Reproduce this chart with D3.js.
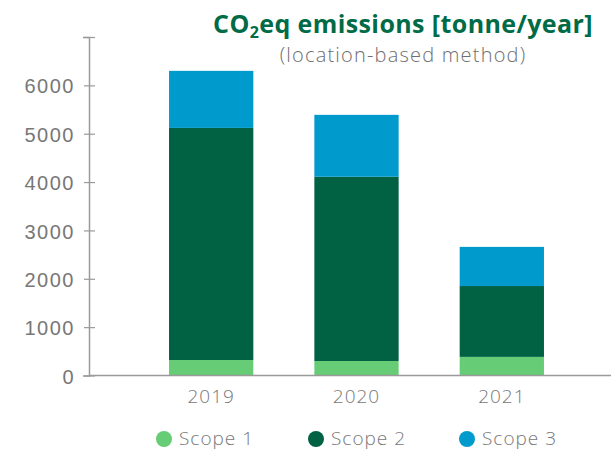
<!DOCTYPE html>
<html>
<head>
<meta charset="utf-8">
<script src="https://cdn.jsdelivr.net/npm/d3@7"></script>
<style>
  body { margin: 0; background: #fff; }
  svg { display: block; font-family: "Open Sans", sans-serif; }
</style>
</head>
<body>
<svg id="chart" width="611" height="450"></svg>
<script>
// chart data
const years = ["2019", "2020", "2021"];
const scope1 = [320, 300, 385];
const scope2 = [4800, 3810, 1465];
const scope3 = [1180, 1280, 810];
const seriesNames = ["Scope 1", "Scope 2", "Scope 3"];
const seriesColors = ["#66CC75", "#006143", "#009ACD"];
const yTicks = [0, 1000, 2000, 3000, 4000, 5000, 6000, 7000];

const svg = d3.select("#chart");

const rows = years.map((y, i) => ({
  year: y, "Scope 1": scope1[i], "Scope 2": scope2[i], "Scope 3": scope3[i]
}));
const stacked = d3.stack().keys(seriesNames)(rows);

const x = d3.scaleBand().domain(years).range([108, 605]).padding(0.42);
const y = d3.scaleLinear().domain([0, 7000]).range([375.5, 37]);
const color = d3.scaleOrdinal().domain(seriesNames).range(seriesColors);

// bars
svg.append("g").selectAll("g")
  .data(stacked)
  .enter().append("g")
  .attr("fill", d => color(d.key))
  .selectAll("rect")
  .data(d => d)
  .enter().append("rect")
  .attr("x", d => x(d.data.year))
  .attr("width", x.bandwidth())
  .attr("y", d => y(d[1]))
  .attr("height", d => y(d[0]) - y(d[1]));

// y axis
const yAxis = svg.append("g")
  .attr("transform", "translate(89,0)")
  .call(d3.axisLeft(y).tickValues(yTicks).tickSize(6)
    .tickFormat(d => d === 7000 ? "" : d));
yAxis.select(".domain").attr("stroke", "#9a9a9a").attr("stroke-width", 1.5);
yAxis.selectAll(".tick line").attr("stroke", "#9a9a9a").attr("stroke-width", 1.2)
  .attr("x1", 6).attr("x2", -5);
yAxis.selectAll(".tick text")
  .attr("x", -14).attr("dy", "0.38em")
  .attr("fill", "#777").style("font-size", "20px").style("font-weight", 300)
  .style("letter-spacing", "1.5px");

// x baseline and labels
svg.append("line")
  .attr("x1", 89).attr("x2", 611)
  .attr("y1", y(0)).attr("y2", y(0))
  .attr("stroke", "#9a9a9a").attr("stroke-width", 1.5);

svg.append("g").selectAll("text")
  .data(years)
  .enter().append("text")
  .attr("x", d => x(d) + x.bandwidth() / 2)
  .attr("y", 403)
  .attr("text-anchor", "middle")
  .attr("fill", "#777")
  .style("font-size", "19px").style("font-weight", 300)
  .style("letter-spacing", "1px")
  .text(d => d);

// title
const title = svg.append("text")
  .attr("x", 403).attr("y", 33)
  .attr("text-anchor", "middle")
  .attr("fill", "#006B46")
  .style("font-size", "25px").style("font-weight", 700)
  .style("letter-spacing", "0.4px");
title.append("tspan").text("CO");
title.append("tspan").attr("dy", 5).style("font-size", "16px").text("2");
title.append("tspan").attr("dy", -5).text("eq emissions [tonne/year]");

svg.append("text")
  .attr("x", 403).attr("y", 62)
  .attr("text-anchor", "middle")
  .attr("fill", "#6e6e6e")
  .style("font-size", "20px").style("font-weight", 300)
  .style("letter-spacing", "1.2px")
  .text("(location-based method)");

// legend
const legendX = [164, 316, 467];
const legend = svg.append("g").selectAll("g")
  .data(seriesNames)
  .enter().append("g")
  .attr("transform", (d, i) => `translate(${legendX[i]},439)`);
legend.append("circle").attr("r", 8).attr("fill", d => color(d));
legend.append("text")
  .attr("x", 15).attr("y", 6)
  .attr("fill", "#777")
  .style("font-size", "19px").style("font-weight", 300)
  .style("letter-spacing", "1px")
  .text(d => d);
</script>
</body>
</html>
